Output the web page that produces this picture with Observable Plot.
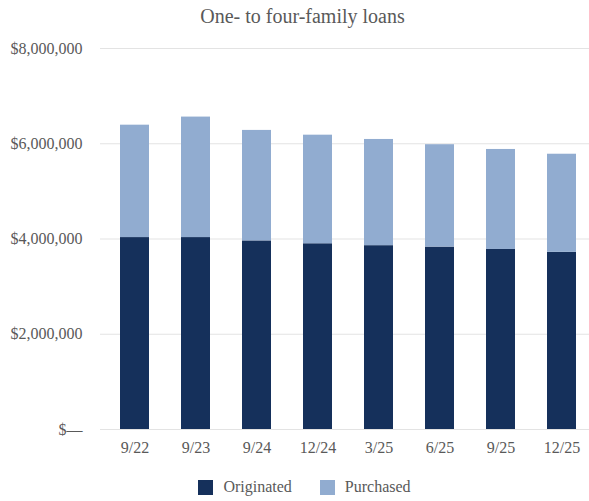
<!DOCTYPE html>
<html>
<head>
<meta charset="utf-8">
<script src="https://cdn.jsdelivr.net/npm/d3@7"></script>
<script src="https://cdn.jsdelivr.net/npm/@observablehq/plot@0.6"></script>
<style>
  body { margin: 0; background: #fff; font-family: "Liberation Serif", "Times New Roman", serif; color: #595959; }
  #title { height: 32px; line-height: 32px; text-align: center; font-size: 20px; color: #595959; width: 589px; box-sizing: border-box; padding-left: 16px; }
  #legend { width: 589px; height: 30px; display: flex; justify-content: center; align-items: center; font-size: 16px; color: #595959; box-sizing: border-box; padding-left: 20px; }
  .item { display: flex; align-items: center; margin: 0 14px; }
  .sw { width: 15px; height: 15px; margin-right: 10px; }
</style>
</head>
<body>
<div id="title">One- to four-family loans</div>
<div id="chart"></div>
<div id="legend"></div>
<script>
const dates = ["9/22", "9/23", "9/24", "12/24", "3/25", "6/25", "9/25", "12/25"];
const originated = [4030000, 4030000, 3960000, 3900000, 3860000, 3830000, 3780000, 3720000];
const purchased = [2360000, 2530000, 2320000, 2280000, 2230000, 2150000, 2100000, 2060000];
const seriesNames = ["Originated", "Purchased"];
const seriesColors = ["#15305b", "#91acd0"];
const yTicks = [0, 2000000, 4000000, 6000000, 8000000];

const rows = [];
dates.forEach((d, i) => {
  rows.push({date: d, series: "Originated", value: originated[i]});
  rows.push({date: d, series: "Purchased", value: purchased[i]});
});

const fmt = v => v === 0 ? "$\u2014" : "$" + d3.format(",")(v);

const chart = Plot.plot({
  width: 589,
  height: 440,
  marginLeft: 100,
  marginRight: 0,
  marginTop: 16,
  marginBottom: 43,
  style: {fontFamily: '"Liberation Serif", "Times New Roman", serif', fontSize: "16px", color: "#595959", background: "#fff"},
  x: {domain: dates, range: [100, 597], paddingInner: 0.52, paddingOuter: 0.27, align: 0.5, label: null},
  y: {domain: [0, 8000000], label: null},
  color: {domain: seriesNames, range: seriesColors},
  marks: [
    Plot.ruleY(yTicks, {stroke: "#e3e3e3", strokeWidth: 1}),
    Plot.barY(rows, {x: "date", y: "value", fill: "series", order: seriesNames}),
    Plot.axisY(yTicks, {tickSize: 0, tickPadding: 18, tickFormat: fmt, fontSize: 16, label: null}),
    Plot.axisX({tickSize: 0, tickPadding: 12, fontSize: 16, label: null})
  ]
});
document.getElementById("chart").appendChild(chart);

const legend = document.getElementById("legend");
seriesNames.forEach((n, i) => {
  const it = document.createElement("div");
  it.className = "item";
  it.innerHTML = `<div class="sw" style="background:${seriesColors[i]}"></div><span>${n}</span>`;
  legend.appendChild(it);
});
</script>
</body>
</html>
